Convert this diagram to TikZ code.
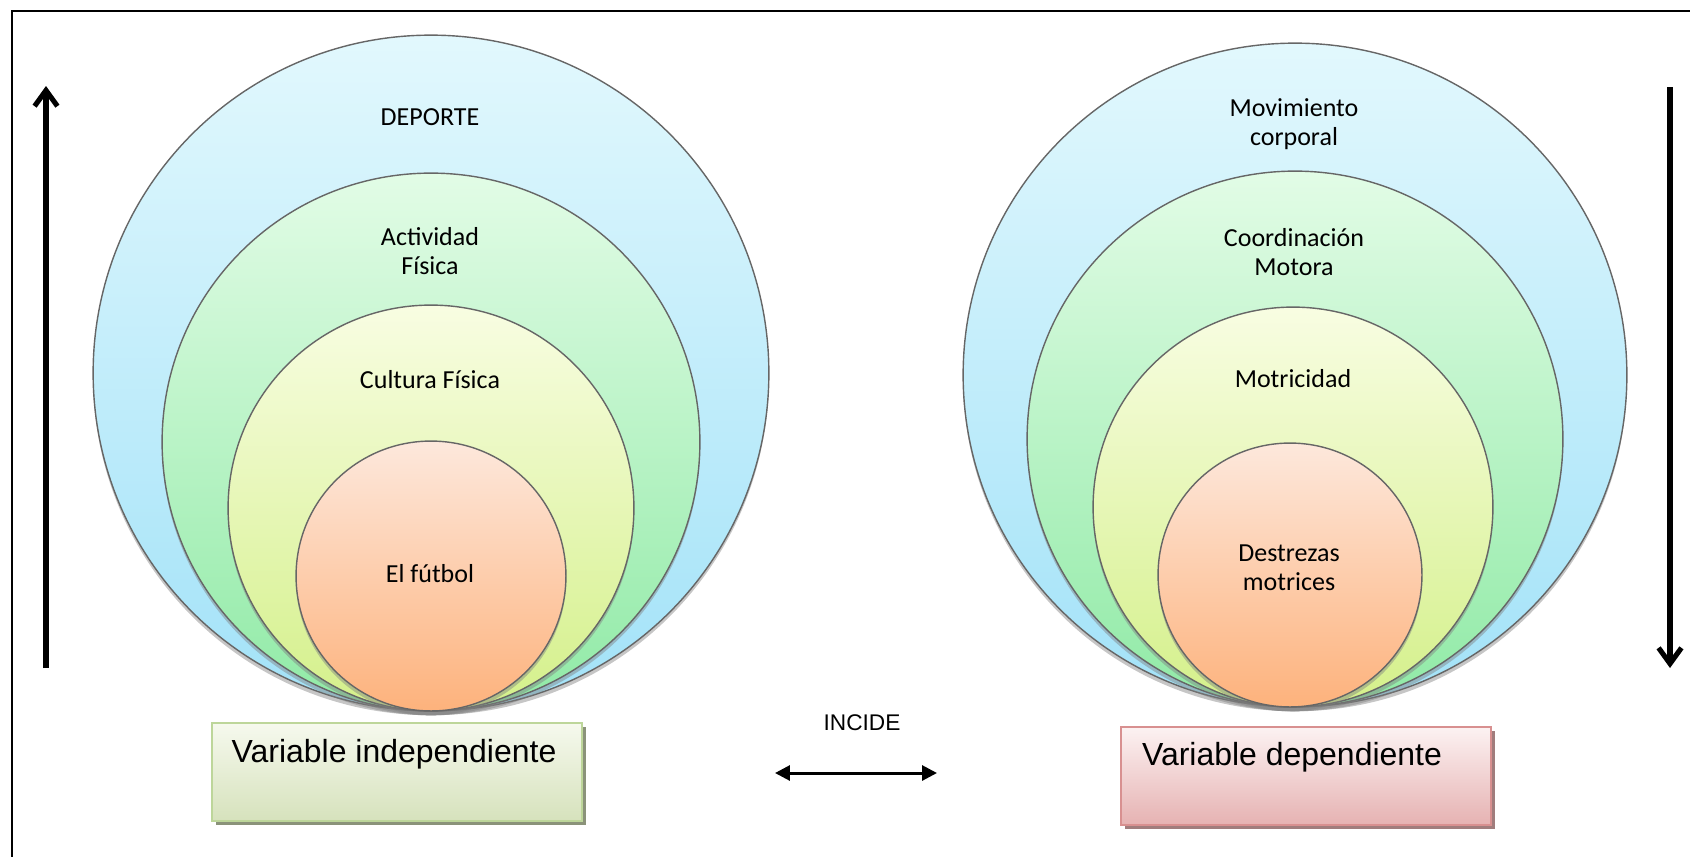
\documentclass[tikz,border=0pt]{standalone}
\usepackage{fontspec}
\setmainfont{Carlito}
\newfontfamily\arialfont{Liberation Sans}
\usetikzlibrary{arrows.meta,shadows}

\definecolor{cyanTop}{HTML}{E2F8FD}
\definecolor{cyanBot}{HTML}{A2E2F8}
\definecolor{greenTop}{HTML}{E2FCE6}
\definecolor{greenBot}{HTML}{90EAA6}
\definecolor{yelTop}{HTML}{F8FDE2}
\definecolor{yelBot}{HTML}{D4F08A}
\definecolor{orTop}{HTML}{FDE8DC}
\definecolor{orBot}{HTML}{FDB27C}
\definecolor{indTop}{HTML}{F6F9EE}
\definecolor{indBot}{HTML}{D6E2BC}
\definecolor{indLine}{HTML}{BDD69A}
\definecolor{depTop}{HTML}{FCF2F2}
\definecolor{depBot}{HTML}{E6B2B2}
\definecolor{depLine}{HTML}{D89090}

\tikzset{
  ring/.style={circle, draw=black!60, line width=0.8pt, inner sep=0pt, outer sep=0pt,
    minimum size=#1*0.04cm,
    drop shadow={shadow xshift=0pt, shadow yshift=-2.5pt, opacity=0.45}},
  lbl/.style={font=\fontsize{14.8}{16.5}\selectfont, align=center, inner sep=0pt},
  varbox/.style={rectangle, minimum width=7.4cm, minimum height=1.96cm, line width=1.2pt,
    inner sep=0pt, drop shadow={shadow xshift=2.2pt, shadow yshift=-2.2pt, opacity=1, fill=#1}},
  vartext/.style={font=\arialfont\fontsize{18.2}{20}\selectfont, inner sep=0pt},
}

\begin{document}
\begin{tikzpicture}[x=0.02cm, y=-0.02cm]
		\useasboundingbox (0,0) rectangle (1690,856);
		% Frame (only top and left show)
		\draw[line width=1.2pt] (12,870) -- (12,11) -- (1700,11);
		%
		%% Left circles
		\node[ring=338, top color=cyanTop, bottom color=cyanBot] (deporte) at (431,373) {};
		\node[ring=269, top color=greenTop, bottom color=greenBot] (actividad) at (431,442) {};
		\node[ring=203, top color=yelTop, bottom color=yelBot] (cultura) at (431,508) {};
		\node[ring=135, top color=orTop, bottom color=orBot] (futbol) at (431,576) {};
		\node[lbl] (tdeporte) at (430,117) {DEPORTE};
		\node[lbl] (tactividad) at (430,251) {Actividad\\Física};
		\node[lbl] (tcultura) at (430,380) {Cultura Física};
		\node[lbl] (tfutbol) at (430,574) {El fútbol};
		%
		%% Right circles
		\node[ring=332, top color=cyanTop, bottom color=cyanBot] (movimiento) at (1295,375) {};
		\node[ring=268, top color=greenTop, bottom color=greenBot] (coordinacion) at (1295,439) {};
		\node[ring=200, top color=yelTop, bottom color=yelBot] (motricidad) at (1293,507) {};
		\node[ring=132, top color=orTop, bottom color=orBot] (destrezas) at (1290,575) {};
		\node[lbl] (tmovimiento) at (1294,124) {Movimiento\\corporal};
		\node[lbl] (tcoordinacion) at (1294,252) {Coordinación\\Motora};
		\node[lbl] (tmotricidad) at (1293,379) {Motricidad};
		\node[lbl] (tdestrezas) at (1289,568) {Destrezas\\motrices};
		%
		%% Variable boxes
		\node[varbox=black!35!indBot, draw=indLine, top color=indTop, bottom color=indBot] (indep) at (397,772) {};
		\node[vartext] (tindep) at (394,754) {Variable independiente};
		\node[varbox=black!30!depBot, draw=depLine, top color=depTop, bottom color=depBot] (dep) at (1306,776) {};
		\node[vartext] (tdep) at (1292,757) {Variable dependiente};
		%
		% INCIDE
		\node[font=\arialfont\fontsize{12.9}{14}\selectfont] (incide) at (862,723) {INCIDE};
		\coordinate (il) at (775,773); \coordinate (ir) at (937,773);
		\draw[line width=1.7pt, {Triangle[length=8.5pt,width=8.5pt]}-{Triangle[length=8.5pt,width=8.5pt]}] (il) -- (ir);
		%
		% Side arrows
		\coordinate (lb) at (46,668); \coordinate (lt) at (46,86);
		\coordinate (rt) at (1670,87); \coordinate (rb) at (1670,668);
		\draw[line width=2.9pt, -{Straight Barb[length=9pt,width=13pt]}] (lb) -- (lt);
		\draw[line width=2.9pt, -{Straight Barb[length=9pt,width=13pt]}] (rt) -- (rb);
	\end{tikzpicture}
\end{document}
